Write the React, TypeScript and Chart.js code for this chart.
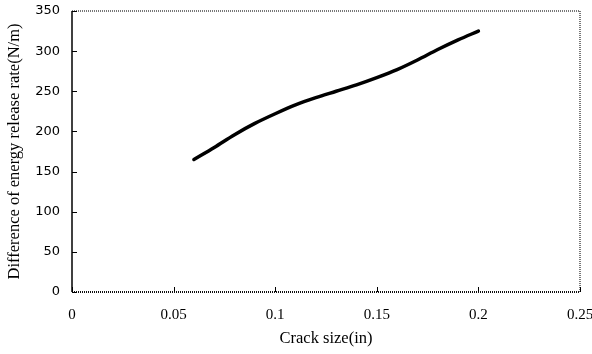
import React, { useEffect, useRef } from 'react';
import { Chart, registerables } from 'chart.js';
Chart.register(...registerables);

const crackSize = [0.06, 0.07, 0.08, 0.09, 0.1, 0.11, 0.12, 0.13, 0.14, 0.15, 0.16, 0.17, 0.18, 0.19, 0.2];
const releaseRate = [165, 180, 196, 210, 222, 233, 242, 250, 258, 267, 277, 289, 302, 314, 325];
const xTickValues = [0, 0.05, 0.1, 0.15, 0.2, 0.25];
const yTickValues = [0, 50, 100, 150, 200, 250, 300, 350];
const xTitle = 'Crack size(in)';
const yTitle = 'Difference of energy release rate(N/m)';

const framePlugin = {
  id: 'frame',
  afterDraw(chart: any) {
    const { ctx, chartArea } = chart;
    const { left, right, top, bottom } = chartArea;
    const xs = chart.scales.x;
    const ys = chart.scales.y;
    ctx.save();
    ctx.strokeStyle = '#777';
    ctx.lineWidth = 2;
    ctx.setLineDash([1, 1]);
    ctx.beginPath();
    ctx.moveTo(left, top);
    ctx.lineTo(right, top);
    ctx.lineTo(right, bottom);
    ctx.stroke();
    ctx.strokeStyle = '#111';
    ctx.beginPath();
    ctx.moveTo(left, bottom);
    ctx.lineTo(right, bottom);
    ctx.stroke();
    ctx.setLineDash([]);
    ctx.strokeStyle = '#000';
    ctx.lineWidth = 1.5;
    ctx.beginPath();
    ctx.moveTo(left, top);
    ctx.lineTo(left, bottom);
    ctx.stroke();
    ctx.lineWidth = 1;
    ctx.beginPath();
    xs.ticks.forEach((t: any) => {
      const px = Math.round(xs.getPixelForValue(t.value)) + 0.5;
      ctx.moveTo(px, bottom);
      ctx.lineTo(px, bottom - 5);
    });
    ys.ticks.forEach((t: any) => {
      const py = Math.round(ys.getPixelForValue(t.value)) + 0.5;
      ctx.moveTo(left, py);
      ctx.lineTo(left + 5, py);
    });
    ctx.stroke();
    ctx.restore();
  },
};

const zeroPad = (s: any) => {
  s.paddingLeft = 0;
  s.paddingRight = 0;
  s.paddingTop = 0;
  s.paddingBottom = 0;
};

export default function App() {
  const ref = useRef<HTMLCanvasElement>(null);
  useEffect(() => {
    const chart = new Chart(ref.current as HTMLCanvasElement, {
      type: 'scatter',
      data: {
        datasets: [
          {
            data: crackSize.map((x, i) => ({ x, y: releaseRate[i] })),
            showLine: true,
            borderColor: '#000',
            borderWidth: 3.5,
            pointRadius: 0,
            cubicInterpolationMode: 'monotone',
            borderCapStyle: 'round',
          },
        ],
      },
      options: {
        animation: false,
        responsive: false,
        layout: { padding: { top: 11, right: 12, left: 0, bottom: 0 } },
        plugins: { legend: { display: false }, tooltip: { enabled: false } },
        scales: {
          x: {
            type: 'linear',
            min: 0,
            max: 0.25,
            afterBuildTicks: (s: any) => {
              s.ticks = xTickValues.map((v) => ({ value: v }));
            },
            afterFit: (s: any) => {
              s.height = 62;
              zeroPad(s);
            },
            grid: { display: false, drawTicks: false },
            border: { display: false },
            ticks: {
              padding: 14,
              color: '#000',
              font: { family: 'Liberation Serif', size: 15 },
              callback: (v: any) => String(Number(Number(v).toFixed(2))),
              maxRotation: 0,
            },
            title: {
              display: true,
              text: xTitle,
              color: '#000',
              font: { family: 'Liberation Serif', size: 16.5 },
              padding: { top: 0, bottom: 5 },
            },
          },
          y: {
            type: 'linear',
            min: 0,
            max: 350,
            afterBuildTicks: (s: any) => {
              s.ticks = yTickValues.map((v) => ({ value: v }));
            },
            afterFit: (s: any) => {
              s.width = 72;
              zeroPad(s);
            },
            grid: { display: false, drawTicks: false },
            border: { display: false },
            ticks: {
              padding: 12,
              color: '#000',
              font: { family: 'DejaVu Sans', size: 13 },
            },
            title: {
              display: true,
              text: yTitle,
              color: '#000',
              font: { family: 'Liberation Serif', size: 16.5 },
              padding: { top: 5, bottom: 0 },
            },
          },
        },
      },
      plugins: [framePlugin],
    } as any);
    return () => chart.destroy();
  }, []);
  return (
    <div style={{ position: 'absolute', left: 0, top: 0, width: 592, height: 354, background: '#fff' }}>
      <canvas ref={ref} width={592} height={354} />
    </div>
  );
}
